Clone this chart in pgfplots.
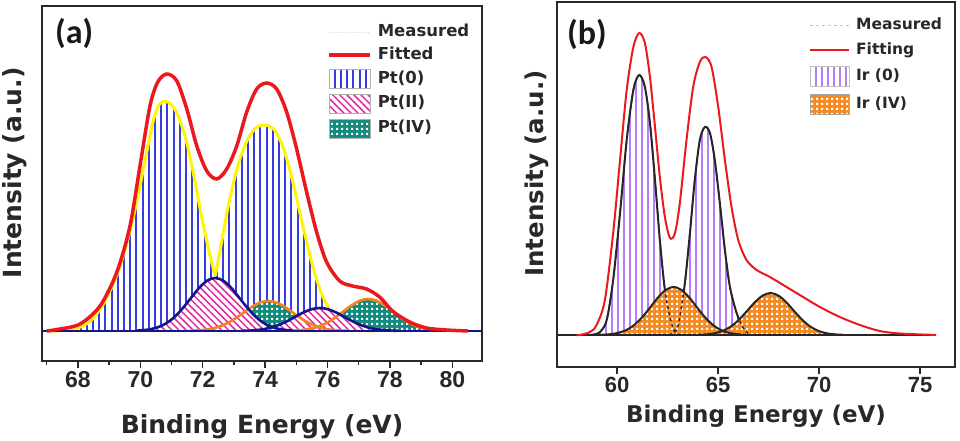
\documentclass[border=0pt]{standalone}
\usepackage{fontspec}
\setmainfont{Liberation Sans}
\newfontfamily\dv{DejaVu Sans}
\newfontfamily\carl{Carlito}
\usepackage{pgfplots}
\pgfplotsset{compat=1.18}
\usetikzlibrary{patterns.meta}

\tikzdeclarepattern{
  name=WSquares,
  type=uncolored,
  bounding box={(0pt,0pt) and (5pt,5pt)},
  tile size={(5pt,5pt)},
  code={\pgfpathrectangle{\pgfpoint{1.4pt}{1.4pt}}{\pgfpoint{2.3pt}{2.3pt}}\pgfusepath{fill}}
}

\definecolor{ptblue}{RGB}{55,60,225}
\definecolor{ptyel}{RGB}{255,245,0}
\definecolor{ptred}{RGB}{235,25,30}
\definecolor{ptnavy}{RGB}{20,20,140}
\definecolor{ptorange}{RGB}{245,130,30}
\definecolor{ptteal}{RGB}{20,140,125}
\definecolor{ptpink}{RGB}{230,40,160}
\definecolor{irviolet}{RGB}{180,125,250}
\definecolor{irorange}{RGB}{245,140,35}
\definecolor{frame}{RGB}{40,40,40}

\pgfplotsset{
  lgline/.style={legend image code/.code={\draw[##1] (0pt,0pt) -- (41pt,0pt);}},
  lgbox/.style={legend image code/.code={\draw[##1] (0pt,-9.5pt) rectangle (41pt,9.5pt);}},
  lglineb/.style={legend image code/.code={\draw[##1] (0pt,0pt) -- (39pt,0pt);}},
  lgboxb/.style={legend image code/.code={\draw[##1] (0pt,-10pt) rectangle (39pt,10pt);}},
  common/.style={
    scale only axis,
    anchor=south west,
    axis line style={line width=1.6pt, draw=frame},
    ytick=\empty,
    xtick pos=bottom, tick align=outside,
    major tick length=7pt, minor tick length=4pt,
    every tick/.style={line width=1.5pt, frame},
    /pgf/number format/assume math mode=true,
    xlabel={Binding Energy (eV)}, ylabel={Intensity (a.u.)},
  },
  pt0/.style={draw=none, pattern={Lines[angle=90,distance=6.2pt,line width=2pt]}, pattern color=ptblue},
  ptII/.style={draw=none, fill=white, postaction={pattern={Lines[angle=-45,distance=5pt,line width=1.5pt]}, pattern color=ptpink}},
  ptIV/.style={draw=none, fill=ptteal, postaction={pattern=WSquares, pattern color=white}},
  ir0/.style={draw=none, pattern={Lines[angle=90,distance=6pt,line width=2.6pt]}, pattern color=irviolet},
  irIV/.style={draw=none, fill=irorange, postaction={pattern=WSquares, pattern color=white}},
}

\begin{document}
\begin{tikzpicture}
% ---------------- panel (a) ----------------
\begin{axis}[common,
  at={(42pt,80pt)}, width=440pt, height=355pt,
  xmin=66.85, xmax=80.95, ymin=-0.30, ymax=3.25,
  xtick={68,70,...,80}, minor xtick={67,69,...,79},
  tick label style={font=\fontsize{23}{27}\selectfont\bfseries, text=frame},
  every axis x label/.style={at={(axis description cs:0.5,0)}, anchor=base, yshift=-72pt, inner sep=0pt, font=\dv\bfseries\fontsize{25}{30}\selectfont, text=frame},
  every axis y label/.style={at={(axis description cs:-0.0455,0.53)}, rotate=90, anchor=base, inner sep=0pt, font=\dv\bfseries\fontsize{25}{30}\selectfont, text=frame},
  legend style={at={(axis description cs:0.648,0.952)}, anchor=north west, draw=none, fill=none, inner sep=0pt, row sep=5pt, column sep=6pt,
    font=\dv\bfseries\fontsize{16.5}{19}\selectfont, text=frame,
    nodes={inner sep=0pt, text height=13pt, text depth=5pt}, cells={anchor=west}},
]
\addlegendimage{lgline, gray!35, dotted, line width=1.2pt}
\addlegendentry{Measured}
\addlegendimage{lgline, ptred, line width=3.5pt}
\addlegendentry{Fitted}
\addlegendimage{lgbox, draw=gray!60, line width=0.8pt, pattern={Lines[angle=90,distance=6.2pt,line width=2pt]}, pattern color=ptblue}
\addlegendentry{Pt(0)}
\addlegendimage{lgbox, draw=gray!60, line width=0.8pt, fill=white, postaction={pattern={Lines[angle=-45,distance=5pt,line width=1.5pt]}, pattern color=ptpink}}
\addlegendentry{Pt(II)}
\addlegendimage{lgbox, draw=gray!60, line width=0.8pt, fill=ptteal, postaction={pattern=WSquares, pattern color=white}}
\addlegendentry{Pt(IV)}

% Pt(0) fills
\addplot[pt0, smooth, forget plot] coordinates {
(67.0,0) (67.5,0.005) (68.0,0.03) (68.4,0.10) (68.8,0.26) (69.2,0.52) (69.5,0.80) (69.8,1.17)
(70.1,1.62) (70.4,2.08) (70.6,2.26) (70.8,2.30) (71.0,2.26) (71.2,2.16) (71.45,1.93) (71.7,1.58)
(71.95,1.17) (72.2,0.80) (72.4,0.55)} \closedcycle;
\addplot[pt0, smooth, forget plot] coordinates {
(72.4,0.55) (72.6,0.88) (72.8,1.22) (73.0,1.50) (73.2,1.73) (73.45,1.92) (73.7,2.03) (74.0,2.06)
(74.3,2.01) (74.55,1.86) (74.8,1.60) (75.05,1.27) (75.3,0.93) (75.55,0.62) (75.8,0.38) (76.05,0.22)
(76.3,0.12) (76.6,0.05) (77.0,0.01) (77.5,0.0)} \closedcycle;
% yellow outlines
\addplot[ptyel, line width=3pt, smooth, forget plot] coordinates {
(67.0,0) (67.5,0.005) (68.0,0.03) (68.4,0.10) (68.8,0.26) (69.2,0.52) (69.5,0.80) (69.8,1.17)
(70.1,1.62) (70.4,2.08) (70.6,2.26) (70.8,2.30) (71.0,2.26) (71.2,2.16) (71.45,1.93) (71.7,1.58)
(71.95,1.17) (72.2,0.80) (72.4,0.55)};
\addplot[ptyel, line width=3pt, smooth, forget plot] coordinates {
(72.4,0.55) (72.6,0.88) (72.8,1.22) (73.0,1.50) (73.2,1.73) (73.45,1.92) (73.7,2.03) (74.0,2.06)
(74.3,2.01) (74.55,1.86) (74.8,1.60) (75.05,1.27) (75.3,0.93) (75.55,0.62) (75.8,0.38) (76.05,0.22)
(76.3,0.12) (76.6,0.05) (77.0,0.01) (77.5,0.0)};
% Pt(IV) fills
\addplot[ptIV, smooth, forget plot] coordinates {
(71.6,0.002) (71.85,0.006) (72.1,0.013) (72.35,0.027) (72.6,0.052) (72.85,0.089) (73.1,0.137)
(73.35,0.193) (73.6,0.247) (73.85,0.286) (74.1,0.300) (74.35,0.286) (74.6,0.247) (74.85,0.193)
(75.1,0.137) (75.35,0.089) (75.6,0.052) (75.85,0.027) (76.1,0.013) (76.35,0.006) (76.6,0.002)} \closedcycle;
\addplot[ptIV, smooth, forget plot] coordinates {
(74.8,0.002) (75.05,0.006) (75.3,0.014) (75.55,0.029) (75.8,0.055) (76.05,0.094) (76.3,0.147)
(76.55,0.206) (76.8,0.263) (77.05,0.305) (77.3,0.320) (77.55,0.305) (77.8,0.263) (78.05,0.206)
(78.3,0.147) (78.55,0.094) (78.8,0.055) (79.05,0.029) (79.3,0.014) (79.55,0.006) (79.8,0.002)} \closedcycle;
% Pt(II) fills
\addplot[ptII, smooth, forget plot] coordinates {
(69.9,0.004) (70.15,0.010) (70.4,0.023) (70.65,0.048) (70.9,0.091) (71.15,0.156) (71.4,0.243)
(71.65,0.341) (71.9,0.436) (72.15,0.505) (72.4,0.530) (72.65,0.505) (72.9,0.436) (73.15,0.341)
(73.4,0.243) (73.65,0.156) (73.9,0.091) (74.15,0.048) (74.4,0.023) (74.65,0.010) (74.9,0.004)} \closedcycle;
\addplot[ptII, smooth, forget plot] coordinates {
(73.25,0.002) (73.5,0.004) (73.75,0.010) (74.0,0.021) (74.25,0.040) (74.5,0.068) (74.75,0.105)
(75.0,0.148) (75.25,0.189) (75.5,0.219) (75.75,0.230) (76.0,0.219) (76.25,0.189) (76.5,0.148)
(76.75,0.105) (77.0,0.068) (77.25,0.040) (77.5,0.021) (77.75,0.010) (78.0,0.004) (78.25,0.002)} \closedcycle;
% Pt(IV) outlines
\addplot[ptorange, line width=2.6pt, smooth, forget plot] coordinates {
(71.6,0.002) (71.85,0.006) (72.1,0.013) (72.35,0.027) (72.6,0.052) (72.85,0.089) (73.1,0.137)
(73.35,0.193) (73.6,0.247) (73.85,0.286) (74.1,0.300) (74.35,0.286) (74.6,0.247) (74.85,0.193)
(75.1,0.137) (75.35,0.089) (75.6,0.052) (75.85,0.027) (76.1,0.013) (76.35,0.006) (76.6,0.002)};
\addplot[ptorange, line width=2.6pt, smooth, forget plot] coordinates {
(74.8,0.002) (75.05,0.006) (75.3,0.014) (75.55,0.029) (75.8,0.055) (76.05,0.094) (76.3,0.147)
(76.55,0.206) (76.8,0.263) (77.05,0.305) (77.3,0.320) (77.55,0.305) (77.8,0.263) (78.05,0.206)
(78.3,0.147) (78.55,0.094) (78.8,0.055) (79.05,0.029) (79.3,0.014) (79.55,0.006) (79.8,0.002)};
% Pt(II) outlines
\addplot[ptnavy, line width=2.6pt, smooth, forget plot] coordinates {
(69.9,0.004) (70.15,0.010) (70.4,0.023) (70.65,0.048) (70.9,0.091) (71.15,0.156) (71.4,0.243)
(71.65,0.341) (71.9,0.436) (72.15,0.505) (72.4,0.530) (72.65,0.505) (72.9,0.436) (73.15,0.341)
(73.4,0.243) (73.65,0.156) (73.9,0.091) (74.15,0.048) (74.4,0.023) (74.65,0.010) (74.9,0.004)};
\addplot[ptnavy, line width=2.6pt, smooth, forget plot] coordinates {
(73.25,0.002) (73.5,0.004) (73.75,0.010) (74.0,0.021) (74.25,0.040) (74.5,0.068) (74.75,0.105)
(75.0,0.148) (75.25,0.189) (75.5,0.219) (75.75,0.230) (76.0,0.219) (76.25,0.189) (76.5,0.148)
(76.75,0.105) (77.0,0.068) (77.25,0.040) (77.5,0.021) (77.75,0.010) (78.0,0.004) (78.25,0.002)};
% baseline
\addplot[ptnavy, line width=2.6pt, forget plot] coordinates {(66.85,0) (80.95,0)};
% fitted
\addplot[ptred, line width=3.5pt, smooth, forget plot] coordinates {
(67.0,0.0) (67.43,0.02) (68.07,0.07) (68.71,0.25) (69.25,0.59) (69.67,1.05) (69.99,1.65) (70.31,2.25)
(70.56,2.49) (70.85,2.57) (71.17,2.50) (71.49,2.22) (71.81,1.85) (72.13,1.60) (72.45,1.52) (72.77,1.62)
(73.09,1.85) (73.41,2.19) (73.73,2.42) (74.05,2.48) (74.37,2.42) (74.69,2.19) (75.01,1.82) (75.33,1.39)
(75.65,0.99) (75.97,0.69) (76.39,0.50) (76.80,0.45) (77.25,0.42) (77.67,0.34) (78.08,0.20) (78.63,0.09)
(79.17,0.03) (79.81,0.01) (80.5,0.0)};
\node[anchor=west, inner sep=0pt, font=\carl\bfseries\fontsize{34}{40}\selectfont, text=black!90] at (axis description cs:0.0295,0.924) {(a)};
\end{axis}

% ---------------- panel (b) ----------------
\begin{axis}[common,
  at={(557pt,74pt)}, width=398pt, height=365pt,
  xmin=57.03, xmax=76.73, ymin=-0.32, ymax=3.33,
  xtick={60,65,70,75},
  tick label style={font=\fontsize{22}{26}\selectfont\bfseries, text=frame},
  every axis x label/.style={at={(axis description cs:0.5,0)}, anchor=base, yshift=-55pt, inner sep=0pt, font=\dv\bfseries\fontsize{23}{28}\selectfont, text=frame},
  every axis y label/.style={at={(axis description cs:-0.0327,0.53)}, rotate=90, anchor=base, inner sep=0pt, font=\dv\bfseries\fontsize{24.5}{29}\selectfont, text=frame},
  legend style={at={(axis description cs:0.633,0.9616)}, anchor=north west, draw=none, fill=none, inner sep=0pt, row sep=7pt, column sep=6pt,
    font=\dv\bfseries\fontsize{15.5}{19}\selectfont, text=frame,
    nodes={inner sep=0pt, text height=13pt, text depth=5pt}, cells={anchor=west}},
]
\addlegendimage{lglineb, gray!45, dashed, line width=1.2pt}
\addlegendentry{Measured}
\addlegendimage{lglineb, ptred, line width=2pt}
\addlegendentry{Fitting}
\addlegendimage{lgboxb, draw=gray!50, line width=0.8pt, pattern={Lines[angle=90,distance=6pt,line width=2.6pt]}, pattern color=irviolet}
\addlegendentry{Ir (0)}
\addlegendimage{lgboxb, draw=gray!70, line width=0.8pt, fill=irorange, postaction={pattern=WSquares, pattern color=white}}
\addlegendentry{Ir (IV)}

% Ir(0) fills
\addplot[ir0, smooth, forget plot] coordinates {
(58.5,0.0) (58.85,0.005) (59.16,0.03) (59.49,0.15) (59.81,0.55) (60.15,1.22) (60.48,1.95) (60.81,2.45)
(61.10,2.60) (61.38,2.48) (61.63,2.12) (61.88,1.55) (62.12,0.95) (62.37,0.45) (62.62,0.18) (62.87,0.03) (63.2,0.0)} \closedcycle;
\addplot[ir0, smooth, forget plot] coordinates {
(62.6,0.0) (62.95,0.05) (63.11,0.18) (63.36,0.52) (63.61,1.02) (63.85,1.55) (64.10,1.95) (64.35,2.08)
(64.60,2.02) (64.84,1.75) (65.09,1.32) (65.34,0.85) (65.59,0.48) (65.92,0.22) (66.25,0.07) (66.57,0.0)} \closedcycle;
% Ir(0) solid outlines
\addplot[black!85, line width=2pt, smooth, forget plot] coordinates {
(58.5,0.0) (58.85,0.005) (59.16,0.03) (59.49,0.15) (59.81,0.55) (60.15,1.22) (60.48,1.95) (60.81,2.45)
(61.10,2.60) (61.38,2.48) (61.63,2.12) (61.88,1.55) (62.12,0.95) (62.37,0.45) (62.62,0.18) (62.87,0.03) (63.2,0.0)};
\addplot[black!85, line width=2pt, smooth, forget plot] coordinates {
(62.6,0.0) (62.95,0.05) (63.11,0.18) (63.36,0.52) (63.61,1.02) (63.85,1.55) (64.10,1.95) (64.35,2.08)
(64.60,2.02) (64.84,1.75) (65.09,1.32) (65.34,0.85) (65.59,0.48) (65.92,0.22) (66.25,0.07) (66.57,0.0)};
% Ir(IV) fills
\addplot[irIV, smooth, forget plot] coordinates {
(59.2,0.002) (59.6,0.007) (60.0,0.019) (60.4,0.044) (60.8,0.092) (61.2,0.167) (61.6,0.265) (62.0,0.369)
(62.4,0.449) (62.8,0.480) (63.2,0.449) (63.6,0.369) (64.0,0.265) (64.4,0.167) (64.8,0.092) (65.2,0.044)
(65.6,0.019) (66.0,0.007) (66.4,0.002)} \closedcycle;
\addplot[irIV, smooth, forget plot] coordinates {
(64.0,0.002) (64.4,0.006) (64.8,0.016) (65.2,0.039) (65.6,0.080) (66.0,0.146) (66.4,0.232) (66.8,0.323)
(67.2,0.393) (67.6,0.420) (68.0,0.393) (68.4,0.323) (68.8,0.232) (69.2,0.146) (69.6,0.080) (70.0,0.039)
(70.4,0.016) (70.8,0.006) (71.2,0.002)} \closedcycle;
% Ir(0) dashed hidden outlines
\addplot[black!85, line width=1.4pt, dashed, smooth, forget plot] coordinates {
(58.5,0.0) (58.85,0.005) (59.16,0.03) (59.49,0.15) (59.81,0.55) (60.15,1.22) (60.48,1.95) (60.81,2.45)
(61.10,2.60) (61.38,2.48) (61.63,2.12) (61.88,1.55) (62.12,0.95) (62.37,0.45) (62.62,0.18) (62.87,0.03) (63.2,0.0)};
\addplot[black!85, line width=1.4pt, dashed, smooth, forget plot] coordinates {
(62.6,0.0) (62.95,0.05) (63.11,0.18) (63.36,0.52) (63.61,1.02) (63.85,1.55) (64.10,1.95) (64.35,2.08)
(64.60,2.02) (64.84,1.75) (65.09,1.32) (65.34,0.85) (65.59,0.48) (65.92,0.22) (66.25,0.07) (66.57,0.0)};
% Ir(IV) outlines
\addplot[black!85, line width=2pt, smooth, forget plot] coordinates {
(59.2,0.002) (59.6,0.007) (60.0,0.019) (60.4,0.044) (60.8,0.092) (61.2,0.167) (61.6,0.265) (62.0,0.369)
(62.4,0.449) (62.8,0.480) (63.2,0.449) (63.6,0.369) (64.0,0.265) (64.4,0.167) (64.8,0.092) (65.2,0.044)
(65.6,0.019) (66.0,0.007) (66.4,0.002)};
\addplot[black!85, line width=2pt, smooth, forget plot] coordinates {
(64.0,0.002) (64.4,0.006) (64.8,0.016) (65.2,0.039) (65.6,0.080) (66.0,0.146) (66.4,0.232) (66.8,0.323)
(67.2,0.393) (67.6,0.420) (68.0,0.393) (68.4,0.323) (68.8,0.232) (69.2,0.146) (69.6,0.080) (70.0,0.039)
(70.4,0.016) (70.8,0.006) (71.2,0.002)};
% baseline
\addplot[black!85, line width=2pt, forget plot] coordinates {(57.03,0) (75.8,0)};
% fitting
\addplot[ptred, line width=2pt, smooth, forget plot] coordinates {
(58.0,0.0) (58.17,0.0) (58.66,0.03) (58.99,0.10) (59.40,0.35) (59.81,1.02) (60.15,1.75) (60.48,2.45)
(60.81,2.88) (61.10,3.02) (61.38,2.92) (61.63,2.58) (61.88,2.08) (62.12,1.58) (62.37,1.18) (62.62,0.97)
(62.87,1.02) (63.11,1.32) (63.44,1.95) (63.77,2.48) (64.10,2.73) (64.38,2.78) (64.68,2.68) (65.01,2.28)
(65.34,1.75) (65.67,1.28) (66.00,0.95) (66.41,0.75) (66.91,0.65) (67.57,0.58) (68.39,0.48) (69.21,0.38)
(70.04,0.28) (71.03,0.18) (72.02,0.10) (73.00,0.04) (74.00,0.015) (75.80,0.0)};
\node[anchor=west, inner sep=0pt, font=\carl\bfseries\fontsize{34}{40}\selectfont, text=black!90] at (axis description cs:0.025,0.912) {(b)};
\end{axis}
\pgfresetboundingbox
\path[use as bounding box] (0pt,0pt) rectangle (960pt,441pt);
\end{tikzpicture}
\end{document}
